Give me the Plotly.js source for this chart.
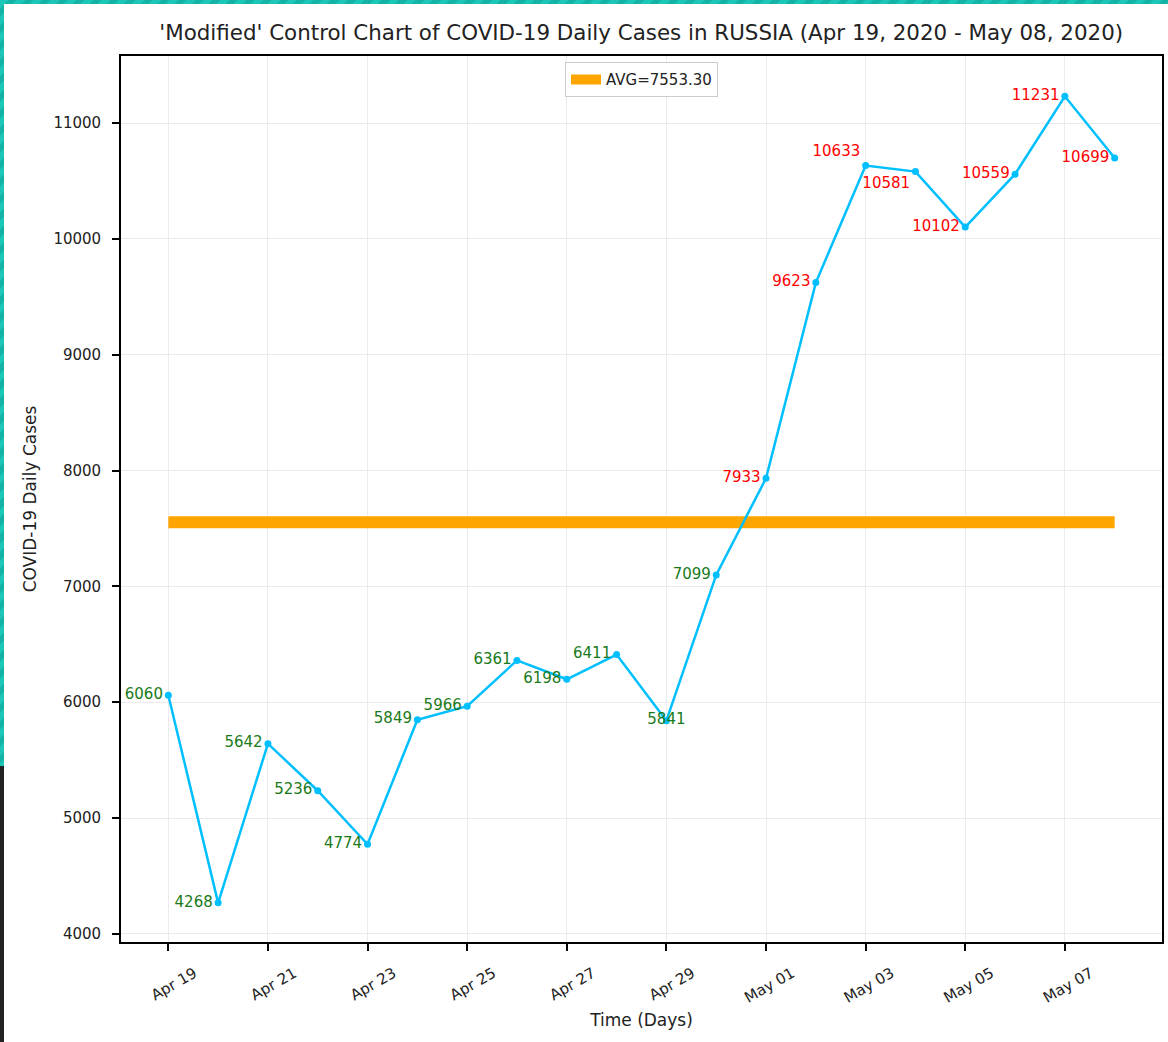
<!DOCTYPE html>
<html>
<head>
<meta charset="utf-8">
<script src="https://cdn.plot.ly/plotly-3.0.1.min.js"></script>
<style>
  html, body { margin: 0; padding: 0; background: #fff; }
  #graph { width: 1168px; height: 1042px; }
  .edge-top { position: absolute; left: 0; top: 0; width: 1168px; height: 4px;
    background: repeating-linear-gradient(135deg, #1cc7b8 0 6px, #13b3a6 6px 12px); z-index: 5; }
  .edge-left { position: absolute; left: 0; top: 0; width: 4px; height: 766px;
    background: repeating-linear-gradient(135deg, #1cc7b8 0 6px, #13b3a6 6px 12px); z-index: 5; }
  .edge-dark { position: absolute; left: 0; top: 766px; width: 4px; height: 276px; background: #222; z-index: 5; }
</style>
</head>
<body>
<div class="edge-top"></div>
<div class="edge-left"></div>
<div class="edge-dark"></div>
<div id="graph"></div>
<script>
// daily cases, Russia
var days = ['2020-04-19', '2020-04-20', '2020-04-21', '2020-04-22', '2020-04-23',
            '2020-04-24', '2020-04-25', '2020-04-26', '2020-04-27', '2020-04-28',
            '2020-04-29', '2020-04-30', '2020-05-01', '2020-05-02', '2020-05-03',
            '2020-05-04', '2020-05-05', '2020-05-06', '2020-05-07', '2020-05-08'];
var cases = [6060, 4268, 5642, 5236, 4774, 5849, 5966, 6361, 6198, 6411,
             5841, 7099, 7933, 9623, 10633, 10581, 10102, 10559, 11231, 10699];
var labelPos = ['middle left', 'middle left', 'middle left', 'middle left', 'middle left',
                'middle left', 'middle left', 'middle left', 'middle left', 'middle left',
                'middle center', 'middle left', 'middle left', 'middle left', 'top left',
                'bottom left', 'middle left', 'middle left', 'middle left', 'middle left'];

var avg = cases.reduce(function(a, b) { return a + b; }, 0) / cases.length;

var labelColors = cases.map(function(v) { return v > avg ? '#ff0000' : '#1a7a1a'; });

var avgTrace = {
    x: [days[0], days[days.length - 1]],
    y: [avg, avg],
    mode: 'lines',
    line: { color: '#ffa500', width: 12 },
    name: 'AVG=' + avg.toFixed(2),
    hoverinfo: 'skip'
};

var casesTrace = {
    x: days,
    y: cases,
    mode: 'lines+markers+text',
    line: { color: '#00bfff', width: 2.5 },
    marker: { color: '#00bfff', size: 7 },
    text: cases.map(String),
    textposition: labelPos,
    textfont: { color: labelColors, size: 15, family: 'DejaVu Sans' },
    showlegend: false
};

var axisStyle = {
    showline: true,
    mirror: true,
    linecolor: '#000',
    linewidth: 1.8,
    ticks: 'outside',
    ticklen: 7,
    tickwidth: 1.8,
    tickcolor: '#000',
    showgrid: true,
    gridcolor: '#ebebeb',
    gridwidth: 1,
    zeroline: false,
    tickfont: { family: 'DejaVu Sans', size: 15, color: '#222' }
};

var layout = {
    width: 1168,
    height: 1042,
    margin: { l: 121, r: 6, t: 56, b: 100 },
    paper_bgcolor: '#fff',
    plot_bgcolor: '#fff',
    font: { family: 'DejaVu Sans', color: '#222' },
    title: {
        text: "'Modified' Control Chart of COVID-19 Daily Cases in RUSSIA (Apr 19, 2020 - May 08, 2020)",
        font: { size: 21.4, color: '#222' },
        x: 0.549,
        xanchor: 'center',
        y: 0.969,
        yanchor: 'middle'
    },
    xaxis: Object.assign({}, axisStyle, {
        type: 'date',
        range: ['2020-04-18 01:12', '2020-05-08 22:48'],
        tick0: '2020-04-19',
        dtick: 2 * 86400000,
        tickformat: '%b %d',
        tickangle: -30,
        ticklabelshift: 26,
        ticklabelstandoff: 8,
        title: { text: 'Time (Days)', font: { size: 17 }, standoff: 8 }
    }),
    yaxis: Object.assign({}, axisStyle, {
        range: [3930, 11579],
        dtick: 1000,
        tick0: 0,
        tickformat: 'd',
        ticklabelstandoff: 8,
        title: { text: 'COVID-19 Daily Cases', font: { size: 17 }, standoff: 12 }
    }),
    legend: {
        x: 0.5,
        xanchor: 'center',
        y: 0.993,
        yanchor: 'top',
        bgcolor: '#fff',
        bordercolor: '#cccccc',
        borderwidth: 1,
        font: { size: 15 },
        tracegroupgap: 0
    },
    showlegend: true
};

Plotly.newPlot('graph', [avgTrace, casesTrace], layout, { displayModeBar: false });
</script>
</body>
</html>
